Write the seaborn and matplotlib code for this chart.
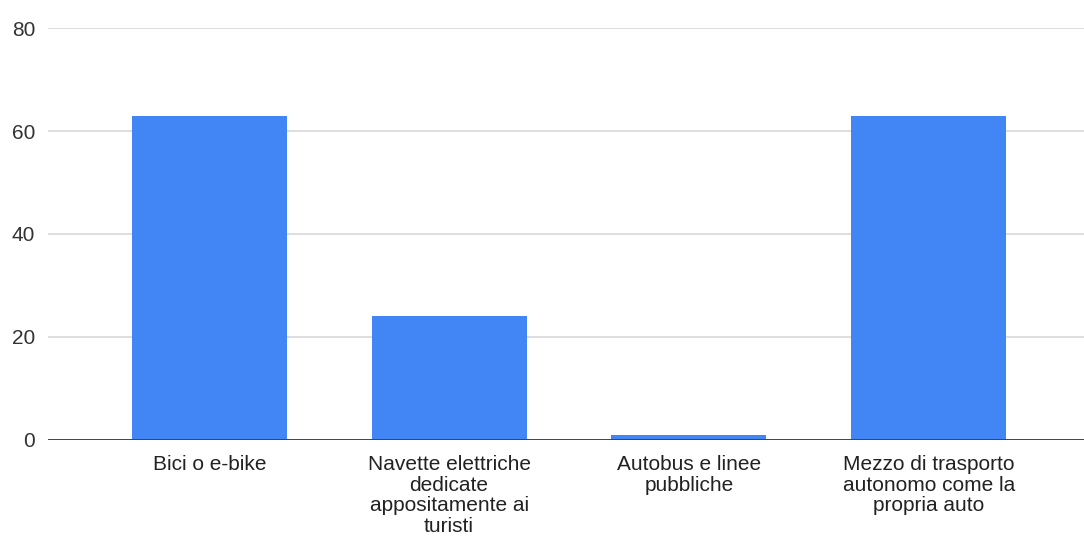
import matplotlib
matplotlib.use("Agg")
import matplotlib.pyplot as plt
import seaborn as sns
import pandas as pd

categories = [
    "Bici o e-bike",
    "Navette elettriche\ndedicate\nappositamente ai\nturisti",
    "Autobus e linee\npubbliche",
    "Mezzo di trasporto\nautonomo come la\npropria auto",
]
values = [63, 24, 1, 63]
yticks = [0, 20, 40, 60, 80]

sns.set_theme(style="white")
plt.rcParams["font.family"] = ["Liberation Sans", "DejaVu Sans"]

df = pd.DataFrame({"cat": categories, "val": values})

fig = plt.figure(figsize=(10.84, 5.41), dpi=100)
ax = fig.add_axes([0.044, 0.187, 0.956, 0.761])
sns.barplot(data=df, x="cat", y="val", color="#4285F4", saturation=1, width=0.647,
            linewidth=0, ax=ax, zorder=3)

ax.set_ylim(0, 80)
ax.set_yticks(yticks)
ax.set_xlim(-0.674, 3.648)
ax.set_xlabel("")
ax.set_ylabel("")
for y in yticks[1:]:
    ax.axhline(y, color="#dedede", linewidth=1.4, zorder=1)
ax.axhline(0, color="#444444", linewidth=1.4, zorder=4)
for s in ax.spines.values():
    s.set_visible(False)
ax.tick_params(axis="y", length=0, pad=9, labelsize=15, labelcolor="#333333")
ax.tick_params(axis="x", length=0, pad=11, labelsize=15, labelcolor="#222222")
for lbl in ax.get_xticklabels():
    lbl.set_linespacing(1.1)
    lbl.set_horizontalalignment("center")
    lbl.set_multialignment("center")

fig.savefig("out.png", dpi=100)
